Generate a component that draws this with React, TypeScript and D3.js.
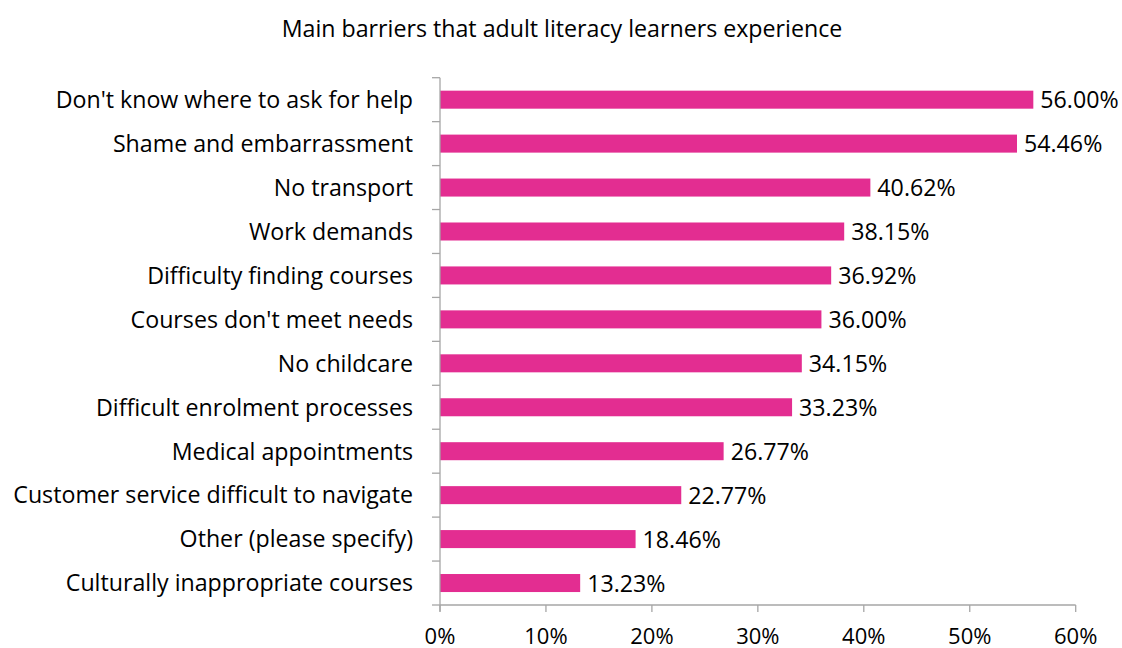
import React from "react";
import * as d3 from "d3";

const categories = [
  "Don't know where to ask for help",
  "Shame and embarrassment",
  "No transport",
  "Work demands",
  "Difficulty finding courses",
  "Courses don't meet needs",
  "No childcare",
  "Difficult enrolment processes",
  "Medical appointments",
  "Customer service difficult to navigate",
  "Other (please specify)",
  "Culturally inappropriate courses",
];
const values = [56.0, 54.46, 40.62, 38.15, 36.92, 36.0, 34.15, 33.23, 26.77, 22.77, 18.46, 13.23];
const xTicks = [0, 10, 20, 30, 40, 50, 60];
const title = "Main barriers that adult literacy learners experience";

const W = 1122;
const H = 648;
const FONT = "'Open Sans', sans-serif";
const FS = 23.2;

export default function App() {
  const x = d3.scaleLinear().domain([0, 60]).range([440, 1075.7]);
  const y = d3.scaleBand<string>().domain(categories).range([77.7, 605]).paddingInner(0.59).paddingOuter(0.295);
  const band = d3.scaleBand<string>().domain(categories).range([77.7, 605]);
  const axisColor = "#a6a6a6";
  return (
    <div style={{ position: "fixed", left: 0, top: 0, width: W, height: H, overflow: "hidden" }}>
      <svg width={W} height={H} style={{ display: "block", background: "#fff" }}>
        <text x={562} y={37} textAnchor="middle" fontFamily={FONT} fontSize={FS} fill="#000">
          {title}
        </text>
        {categories.map((c, i) => (
          <g key={c}>
            <rect x={x(0)} y={y(c)!} width={x(values[i]) - x(0)} height={y.bandwidth()} fill="#E32D91" />
            <text
              x={x(values[i]) + 7}
              y={y(c)! + y.bandwidth() / 2}
              dy="0.38em"
              fontFamily={FONT}
              fontSize={FS}
              fill="#000"
            >
              {values[i].toFixed(2)}%
            </text>
            <text
              x={413}
              y={band(c)! + band.bandwidth() / 2}
              dy="0.36em"
              textAnchor="end"
              fontFamily={FONT}
              fontSize={FS}
              fill="#000"
            >
              {c}
            </text>
          </g>
        ))}
        <line x1={440} x2={440} y1={77.7} y2={611.5} stroke={axisColor} strokeWidth={1.3} />
        {categories.map((c) => (
          <line key={"t" + c} x1={432} x2={440} y1={band(c)!} y2={band(c)!} stroke={axisColor} strokeWidth={1.3} />
        ))}
        <line x1={432} x2={440} y1={605} y2={605} stroke={axisColor} strokeWidth={1.3} />
        <line x1={440} x2={1075.7} y1={605} y2={605} stroke={axisColor} strokeWidth={1.3} />
        {xTicks.map((t) => (
          <g key={"x" + t}>
            <line x1={x(t)} x2={x(t)} y1={605} y2={612} stroke={axisColor} strokeWidth={1.3} />
            <text x={x(t)} y={644} textAnchor="middle" fontFamily={FONT} fontSize={22} fill="#000">
              {t}%
            </text>
          </g>
        ))}
      </svg>
    </div>
  );
}
